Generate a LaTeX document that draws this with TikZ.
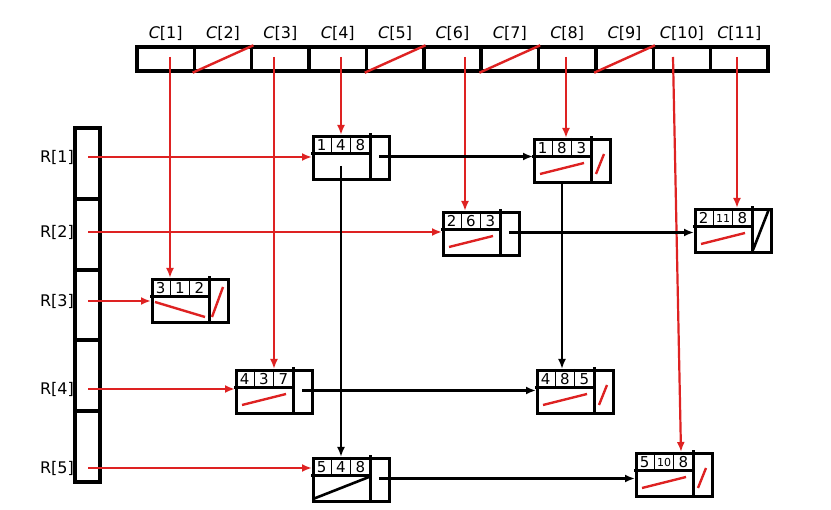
\documentclass[tikz,border=0pt]{standalone}
\usepackage{fontspec}
\setmainfont{DejaVu Sans}
\usetikzlibrary{arrows.meta,calc}
\definecolor{ptr}{RGB}{222,34,34}

% one cross-linked entry: name, x, y, row, column, value, extra marks
\newcommand{\elem}[7]{%
  \node[elem] (#1) at (#2,#3) {};
  \begin{scope}[shift={(#1.north west)}]
    \draw[frame] (58,0) -- (58,43) (0,19) -- (58,19);
    \draw[sep] (19.33,0) -- (19.33,19) (38.67,0) -- (38.67,19);
    \node[num] (#1-i) at (9.67,10) {#4};
    \node[num] (#1-j) at (29,10) {#5};
    \node[num] (#1-v) at (48.33,10) {#6};
    \coordinate (#1-dn) at (29,31);
    \coordinate (#1-rt) at (67,21.5);
    #7
  \end{scope}}
\newcommand{\nild}{\draw[nil] (7,36) -- (51,25);}
\newcommand{\nilr}{\draw[nil] (63,36) -- (71,16);}
\newcommand{\sm}[1]{{\fontsize{11}{11}\selectfont #1}}

\begin{document}
\begin{tikzpicture}[x=1pt,y=-1pt,
  frame/.style={line width=3pt,line cap=rect},
  cross/.style={line width=2.6pt},
  sep/.style={line width=1.4pt},
  nil/.style={ptr,line width=2.4pt},
  elem/.style={draw,fill=white,line width=3pt,rectangle,anchor=north west,
    minimum width=76pt,minimum height=43pt,inner sep=0pt},
  num/.style={font=\fontsize{15}{15}\selectfont,inner sep=0pt},
  lab/.style={font=\fontsize{16}{16}\selectfont,inner sep=0pt},
  ccell/.style={draw,fill=white,line width=3.4pt,rectangle,
    minimum width=57.36pt,minimum height=24pt,inner sep=0pt},
  rcell/.style={draw,fill=white,line width=4pt,rectangle,
    minimum width=25pt,minimum height=70.8pt,inner sep=0pt},
  rptr/.style={ptr,line width=2.2pt,-{Latex[length=10pt,width=8pt]}},
  link/.style={black,line width=2.2pt,-{Latex[length=10pt,width=8pt]}}]

  \useasboundingbox (0,0) rectangle (831,510);

  % column heads
  \foreach \i in {1,...,11} {
    \node[ccell] (c\i) at ({137+57.36*(\i-0.5)},59) {};
    \node[lab] (lc\i) at ({137+57.36*(\i-0.5)},33) {\textit{C}[\i]};
  }
  \foreach \i in {2,5,7,9}
    \draw[nil] (c\i.south west) -- (c\i.north east);

  % row heads
  \foreach \i in {1,...,5}
    \node[rcell] (rc\i) at (87.5,{128+70.8*(\i-0.5)}) {};
  \foreach \i/\y in {1/157,2/232,3/301,4/389,5/468} {
    \node[lab,anchor=east] (lr\i) at (74,\y) {R[\i]};
    \coordinate (r\i) at (88,\y);
  }
  \foreach \i/\x in {1/170,3/274,4/341,6/465,8/566,10/673,11/737}
    \coordinate (cs\i) at (\x,57);

  % entries
  \elem{n148}{312}{135}{1}{4}{8}{}
  \elem{n183}{533}{138}{1}{8}{3}{\nild\nilr}
  \elem{n263}{442}{211}{2}{6}{3}{\nild}
  \elem{n2118}{694}{208}{2}{\sm{11}}{8}{\nild\draw[cross] (59,42) -- (75,1);}
  \elem{n312}{151}{278}{3}{1}{2}{\draw[nil] (4,24) -- (54,39);
    \draw[nil] (61,39) -- (72,9);}
  \elem{n437}{235}{369}{4}{3}{7}{\nild}
  \elem{n485}{536}{369}{4}{8}{5}{\nild\nilr}
  \elem{n548}{312}{457}{5}{4}{8}{\draw[cross] (1,42) -- (57,20);}
  \elem{n5108}{635}{452}{5}{\sm{10}}{8}{\nild\nilr}

  \path[rptr]
    (r1) edge (r1 -| n148.west)
    (r2) edge (r2 -| n263.west)
    (r3) edge (r3 -| n312.west)
    (r4) edge (r4 -| n437.west)
    (r5) edge (r5 -| n548.west)
    (cs1) edge (cs1 |- n312.north)
    (cs3) edge (cs3 |- n437.north)
    (cs4) edge (cs4 |- n148.north)
    (cs6) edge (cs6 |- n263.north)
    (cs8) edge (cs8 |- n183.north)
    (cs10) edge ($(n5108.north west)+(46,0)$)
    (cs11) edge (cs11 |- n2118.north);

  \path[link]
    (n148-rt) edge (n148-rt -| n183.west)
    (n263-rt) edge (n263-rt -| n2118.west)
    (n437-rt) edge (n437-rt -| n485.west)
    (n548-rt) edge (n548-rt -| n5108.west)
    (n148-dn) edge (n148-dn |- n548.north)
    (n183-dn |- n183.south) edge (n183-dn |- n485.north);

\end{tikzpicture}
\end{document}
